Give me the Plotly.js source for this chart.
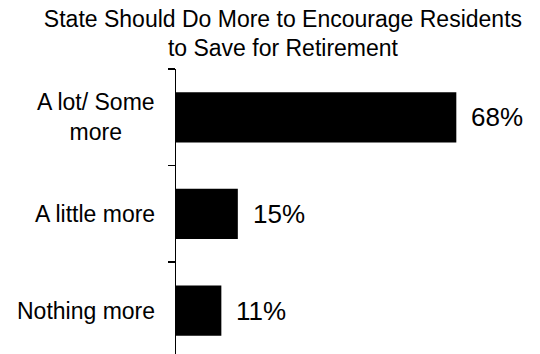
<!DOCTYPE html>
<html>
<head>
<meta charset="utf-8">
<script src="https://cdn.plot.ly/plotly-3.0.1.min.js"></script>
<style>html,body{margin:0;padding:0;background:#fff}#chart{width:540px;height:354px}</style>
</head>
<body>
<div id="chart"></div>
<script>
var categories = ["A lot/ Some more", "A little more", "Nothing more"];
var categoryLabels = ["A lot/ Some<br>more", "A little more", "Nothing more"];
var values = [68, 15, 11];
var valueLabels = ["68%", "15%", "11%"];

var FONT = "Liberation Sans, Arial, Helvetica, sans-serif";

var trace = {
  type: "bar",
  orientation: "h",
  y: categories,
  x: values,
  marker: {color: "#000000", line: {width: 0}},
  hoverinfo: "none"
};

var annotations = [];
categories.forEach(function (c, i) {
  annotations.push({
    xref: "paper", yref: "y", x: 0, y: c,
    xanchor: "right", yanchor: "middle", xshift: -19,
    text: categoryLabels[i], align: "center", showarrow: false,
    font: {family: FONT, size: 23, color: "#000"}
  });
  annotations.push({
    xref: "x", yref: "y", x: values[i], y: c,
    xanchor: "left", yanchor: "middle", xshift: 13,
    text: valueLabels[i], showarrow: false,
    font: {family: FONT, size: 26, color: "#000"}
  });
});

var layout = {
  width: 540, height: 354,
  margin: {l: 176, r: 0, t: 69, b: 0, pad: 0},
  paper_bgcolor: "#fff", plot_bgcolor: "#fff",
  showlegend: false,
  bargap: 0.48,
  title: {
    text: "State Should Do More to Encourage Residents<br>to Save for Retirement",
    font: {family: FONT, size: 23, color: "#000"},
    xref: "container", x: 0.524, xanchor: "center",
    yref: "container", y: 0.925, yanchor: "top"
  },
  xaxis: {range: [0, 88.3], visible: false, fixedrange: true},
  yaxis: {
    type: "category",
    range: [2.45, -0.5],
    showticklabels: false,
    ticks: "outside", ticklen: 7, tickwidth: 1.5, tickcolor: "#000",
    tickson: "boundaries",
    showline: true, linecolor: "#000", linewidth: 1.5,
    showgrid: false, zeroline: false, fixedrange: true
  },
  annotations: annotations
};

Plotly.newPlot("chart", [trace], layout, {displayModeBar: false, staticPlot: true});
</script>
</body>
</html>
